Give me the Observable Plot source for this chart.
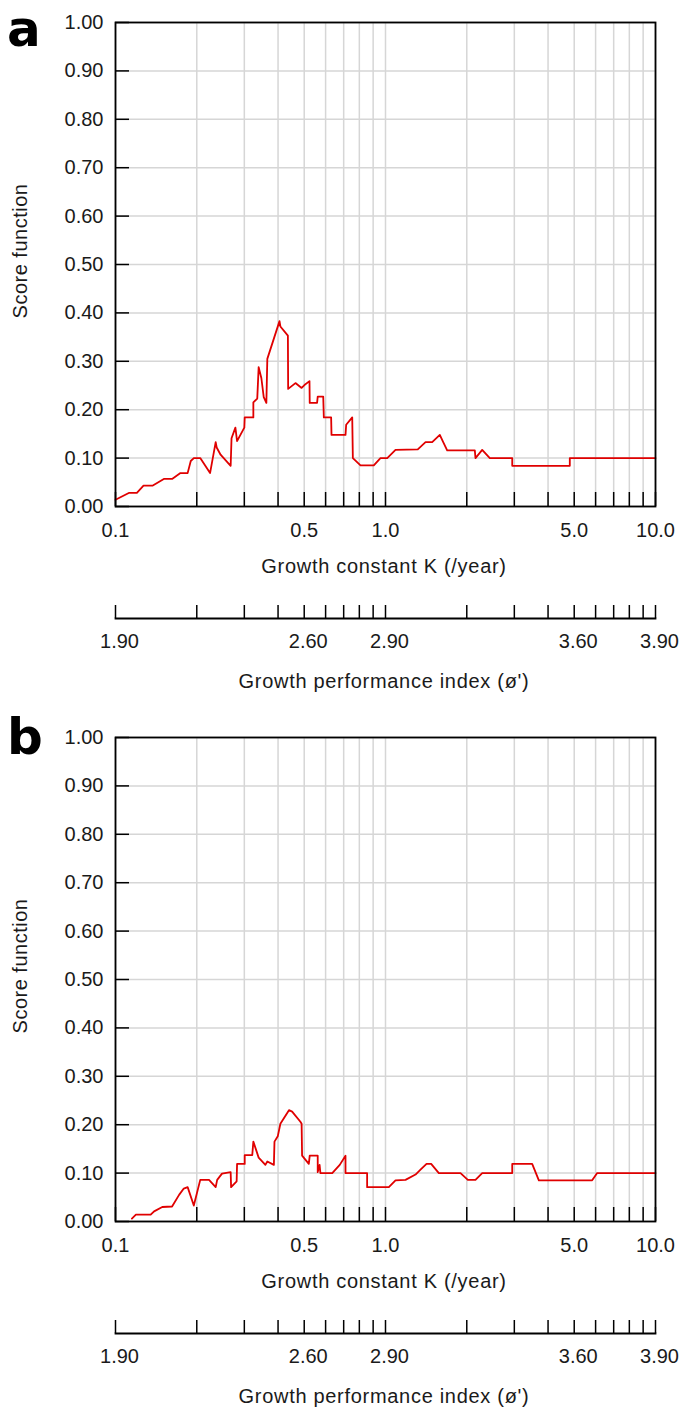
<!DOCTYPE html>
<html>
<head>
<meta charset="utf-8">
<script src="https://cdn.jsdelivr.net/npm/d3@7"></script>
<script src="https://cdn.jsdelivr.net/npm/@observablehq/plot@0.6"></script>
<style>
  body { margin: 0; background: #fff; }
  #root { position: relative; width: 685px; height: 1409px; font-family: "Liberation Sans", Arial, sans-serif; color: #1a1a1a; }
  .title { position: absolute; font-size: 20px; letter-spacing: 0.7px; white-space: nowrap; transform: translate(-50%, -50%); line-height: 1; }
  .ytitle { position: absolute; font-size: 20px; letter-spacing: 0.5px; white-space: nowrap; transform: translate(-50%, -50%) rotate(-90deg); line-height: 1; }
  .panel { position: absolute; left: 7px; font-family: "DejaVu Sans", "Liberation Sans", sans-serif; font-weight: 700; font-size: 50px; line-height: normal; color: #000; }
</style>
</head>
<body>
<div id="root"></div>
<script>
// ---- data ----
const kTicks = [0.1, 0.2, 0.3, 0.4, 0.5, 0.6, 0.7, 0.8, 0.9, 1, 2, 3, 4, 5, 6, 7, 8, 9, 10];
const kLabels = [0.1, 0.5, 1, 5, 10];
const phiLabels = ["1.90", "2.60", "2.90", "3.60", "3.90"];
const yTicks = [0, 0.1, 0.2, 0.3, 0.4, 0.5, 0.6, 0.7, 0.8, 0.9, 1.0];

const kA = [0.100,0.112,0.120,0.127,0.137,0.151,0.162,0.174,0.185,0.190,0.195,0.206,0.224,0.235,0.237,0.245,0.267,0.269,0.278,0.282,0.300,0.301,0.324,0.324,0.335,0.339,0.347,0.354,0.362,0.365,0.405,0.408,0.435,0.436,0.464,0.489,0.501,0.523,0.524,0.558,0.561,0.588,0.591,0.629,0.631,0.711,0.715,0.753,0.757,0.808,0.905,0.958,1.015,1.089,1.317,1.407,1.489,1.589,1.636,1.692,2.142,2.154,2.281,2.434,2.947,2.947,4.815,4.815,10];
const scoreA = [0.014,0.028,0.028,0.043,0.043,0.057,0.057,0.069,0.069,0.094,0.100,0.100,0.069,0.133,0.122,0.107,0.084,0.141,0.163,0.135,0.163,0.184,0.184,0.215,0.223,0.288,0.265,0.226,0.214,0.305,0.383,0.372,0.353,0.243,0.255,0.245,0.251,0.259,0.214,0.214,0.227,0.227,0.184,0.184,0.148,0.148,0.169,0.184,0.100,0.085,0.085,0.100,0.100,0.117,0.118,0.133,0.133,0.148,0.133,0.116,0.116,0.100,0.117,0.100,0.100,0.084,0.084,0.100,0.100];

const kB = [0.115,0.119,0.135,0.139,0.149,0.162,0.172,0.179,0.185,0.195,0.206,0.222,0.235,0.238,0.248,0.267,0.268,0.281,0.282,0.301,0.301,0.321,0.324,0.339,0.359,0.365,0.386,0.388,0.399,0.408,0.439,0.451,0.484,0.489,0.491,0.520,0.524,0.561,0.561,0.570,0.574,0.635,0.677,0.711,0.711,0.855,0.855,1.029,1.089,1.186,1.292,1.348,1.419,1.476,1.576,1.896,2.018,2.154,2.281,2.947,2.947,3.493,3.698,5.827,6.081,10];
const scoreB = [0.006,0.014,0.014,0.021,0.030,0.031,0.055,0.068,0.071,0.033,0.086,0.086,0.071,0.086,0.099,0.102,0.071,0.083,0.119,0.119,0.137,0.137,0.165,0.132,0.117,0.124,0.117,0.165,0.176,0.202,0.230,0.227,0.206,0.202,0.136,0.119,0.136,0.136,0.102,0.117,0.100,0.100,0.117,0.136,0.100,0.100,0.071,0.071,0.085,0.086,0.097,0.107,0.119,0.119,0.100,0.100,0.086,0.086,0.100,0.100,0.119,0.119,0.085,0.085,0.100,0.100];

const panels = [
  {letter: "a", k: kA, score: scoreA, top: 0, letterTop: 0},
  {letter: "b", k: kB, score: scoreB, top: 715, letterTop: 708}
];

const root = document.getElementById("root");
const W = 685, ML = 115, MR = 30;
const baseStyle = {fontSize: "20px", fontFamily: "'Liberation Sans', Arial, sans-serif", color: "#1a1a1a", background: "transparent", overflow: "visible"};
const phiByK = new Map(kLabels.map((k, i) => [k, phiLabels[i]]));

function place(el, left, top) {
  el.style.position = "absolute";
  el.style.left = left + "px";
  el.style.top = top + "px";
  root.appendChild(el);
}
function addText(cls, text, x, y) {
  const d = document.createElement("div");
  d.className = cls;
  d.textContent = text;
  d.style.left = x + "px";
  d.style.top = y + "px";
  root.appendChild(d);
}

for (const p of panels) {
  const rows = p.k.map((k, i) => ({k, s: p.score[i]}));
  const main = Plot.plot({
    width: W, height: 545,
    marginTop: 22, marginBottom: 39, marginLeft: ML, marginRight: MR,
    style: baseStyle,
    x: {type: "log", domain: [0.1, 10], label: null},
    y: {domain: [0, 1], label: null},
    marks: [
      Plot.gridX(kTicks, {stroke: "#d6d6d6", strokeOpacity: 1, strokeWidth: 1.5}),
      Plot.gridY(yTicks, {stroke: "#d6d6d6", strokeOpacity: 1, strokeWidth: 1.5}),
      Plot.axisX({ticks: kTicks, tickSize: -14, tickFormat: () => "", strokeWidth: 1.5, stroke: "#000", label: null}),
      Plot.axisX({ticks: kLabels, tickSpacing: 1, tickSize: 0, tickPadding: 16, tickFormat: d3.format(".1f"), label: null, fill: "#1a1a1a"}),
      Plot.axisY({ticks: yTicks, tickSize: -14, tickFormat: () => "", strokeWidth: 1.5, stroke: "#000", label: null}),
      Plot.axisY({ticks: yTicks, tickSize: 0, tickPadding: 12, tickFormat: d3.format(".2f"), label: null, fill: "#1a1a1a"}),
      Plot.line(rows, {x: "k", y: "s", stroke: "#e00000", strokeWidth: 1.8}),
      Plot.frame({stroke: "#000", strokeWidth: 1.8})
    ]
  });
  place(main, 0, p.top);

  const sec = Plot.plot({
    width: W, height: 70,
    marginTop: 20, marginBottom: 50, marginLeft: ML, marginRight: MR,
    style: baseStyle,
    x: {type: "log", domain: [0.1, 10], label: null},
    marks: [
      Plot.frame({anchor: "bottom", stroke: "#000", strokeWidth: 1.8}),
      Plot.axisX({ticks: kTicks, tickSize: -13, tickFormat: () => "", strokeWidth: 1.5, stroke: "#000", label: null}),
      Plot.axisX({ticks: kLabels, tickSpacing: 1, tickSize: 0, tickPadding: 15, tickFormat: d => phiByK.get(d), label: null, fill: "#1a1a1a", dx: 4})
    ]
  });
  place(sec, 0, p.top + 598);

  addText("title", "Growth constant K (/year)", 384, p.top + 566);
  addText("title", "Growth performance index (\u00f8')", 384, p.top + 681);
  addText("ytitle", "Score function", 20, p.top + 251);
  const L = document.createElement("div");
  L.className = "panel";
  L.textContent = p.letter;
  L.style.top = p.letterTop + "px";
  root.appendChild(L);
}
</script>
</body>
</html>
